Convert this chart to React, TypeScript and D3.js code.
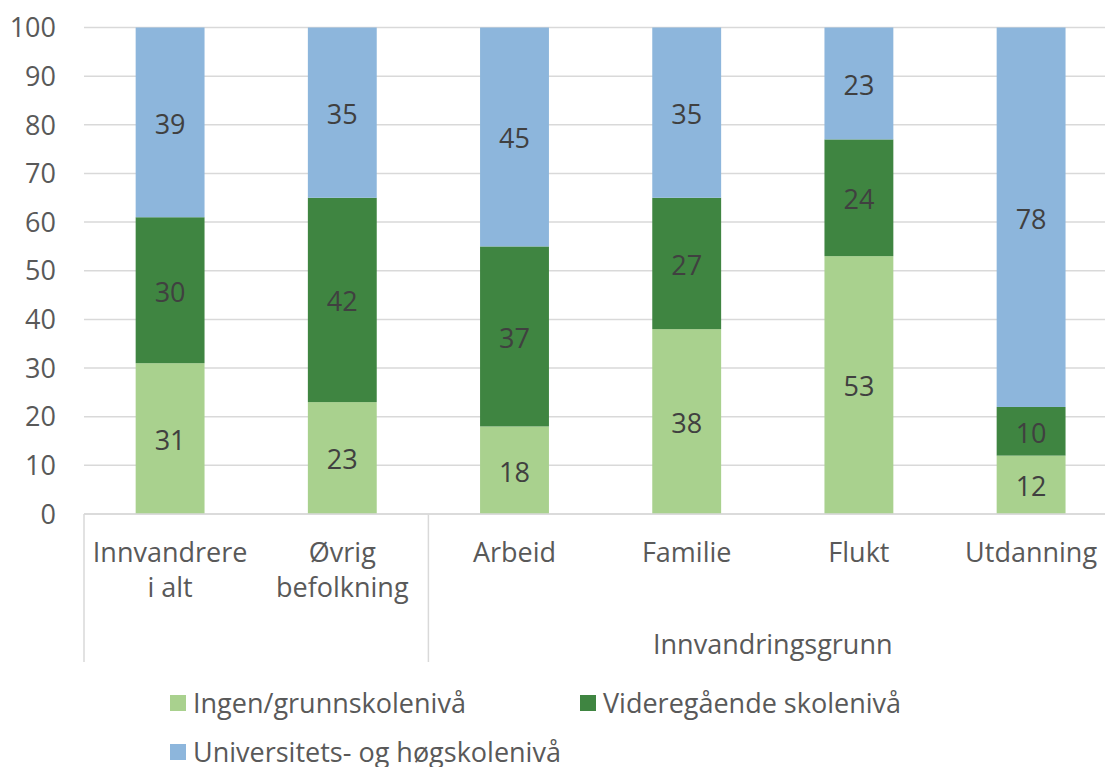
import React from 'react';
import * as d3 from 'd3';

const categories = [
  ['Innvandrere', 'i alt'],
  ['Øvrig', 'befolkning'],
  ['Arbeid'],
  ['Familie'],
  ['Flukt'],
  ['Utdanning'],
];
const seriesNames = ['Ingen/grunnskolenivå', 'Videregående skolenivå', 'Universitets- og høgskolenivå'];
const grunnskole = [31, 23, 18, 38, 53, 12];
const videregaende = [30, 42, 37, 27, 24, 10];
const hoyskole = [39, 35, 45, 35, 23, 78];
const yTicks = [0, 10, 20, 30, 40, 50, 60, 70, 80, 90, 100];
const groupLabel = 'Innvandringsgrunn';

const colors = ['#a9d18e', '#3f8541', '#8db6dc'];
const font = '"Open Sans", sans-serif';

const W = 1105, H = 767;
const left = 84, top = 27.5, bottom = 514;
const band = 172.2;

export default function App() {
  const x = d3.scaleBand<number>()
    .domain(d3.range(categories.length))
    .range([left, left + band * categories.length])
    .paddingInner(0.6)
    .paddingOuter(0.3);
  const y = d3.scaleLinear().domain([0, 100]).range([bottom, top]);

  const rows = categories.map((_, i) => ({
    i,
    grunnskole: grunnskole[i],
    videregaende: videregaende[i],
    hoyskole: hoyskole[i],
  }));
  const stacked = d3.stack<any>().keys(['grunnskole', 'videregaende', 'hoyskole'])(rows);

  // left edge of the "Innvandringsgrunn" group
  const sepX = x(2)! - (x.step() - x.bandwidth()) / 2;

  return (
    <svg width={W} height={H} style={{ position: 'absolute', left: 0, top: 0, fontFamily: font }}>
      <rect width={W} height={H} fill="#fff" />
      {yTicks.map(t => (
        <g key={t}>
          <line x1={left} x2={W} y1={y(t)} y2={y(t)} stroke="#d9d9d9" strokeWidth={1.5} />
          <text x={56} y={y(t)} dy="0.36em" textAnchor="end" fontSize={27} fill="#595959">{t}</text>
        </g>
      ))}
      {stacked.map((s, si) => (
        <g key={si}>
          {s.map((d, i) => (
            <rect key={i} x={x(i)} width={x.bandwidth()} y={y(d[1])} height={y(d[0]) - y(d[1])} fill={colors[si]} />
          ))}
        </g>
      ))}
      {stacked.map((s, si) => (
        <g key={'l' + si}>
          {s.map((d, i) => (
            <text key={i} x={x(i)! + x.bandwidth() / 2} y={y((d[0] + d[1]) / 2)} dy="0.42em"
              textAnchor="middle" fontSize={27} fill="#404040">{d[1] - d[0]}</text>
          ))}
        </g>
      ))}
      {/* multi-level category axis */}
      <line x1={left} x2={W} y1={bottom} y2={bottom} stroke="#d9d9d9" strokeWidth={1.5} />
      <line x1={left} x2={left} y1={bottom} y2={662} stroke="#d9d9d9" strokeWidth={1.5} />
      <line x1={sepX} x2={sepX} y1={bottom} y2={662} stroke="#d9d9d9" strokeWidth={1.5} />
      {categories.map((lines, i) => (
        <text key={i} x={x(i)! + x.bandwidth() / 2} y={562} textAnchor="middle" fontSize={27} fill="#595959">
          {lines.map((l, li) => (
            <tspan key={li} x={x(i)! + x.bandwidth() / 2} dy={li === 0 ? 0 : 35}>{l}</tspan>
          ))}
        </text>
      ))}
      <text x={(sepX + left + band * categories.length) / 2} y={654} textAnchor="middle" fontSize={27} fill="#595959">{groupLabel}</text>
      {/* legend */}
      {seriesNames.map((name, i) => {
        const lx = i === 1 ? 580 : 170;
        const ly = i === 2 ? 762 : 713;
        return (
          <g key={name}>
            <rect x={lx} y={ly - 18} width={16} height={16} fill={colors[i]} />
            <text x={lx + 23} y={ly} fontSize={27} fill="#595959">{name}</text>
          </g>
        );
      })}
    </svg>
  );
}
